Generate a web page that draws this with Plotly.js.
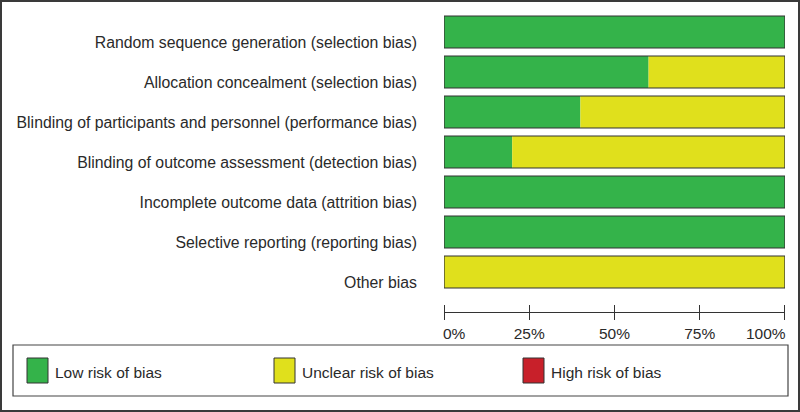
<!DOCTYPE html>
<html><head><meta charset="utf-8">
<script src="https://cdn.plot.ly/plotly-3.0.1.min.js"></script>
<style>
html,body{margin:0;padding:0;background:#fff;}
#wrap{width:800px;height:412px;box-sizing:border-box;border:2px solid #3a3a3a;overflow:hidden;background:#fff;}
#chart{width:796px;height:408px;}
</style></head><body><div id="wrap"><div id="chart"></div></div>
<script>
const domains = [
  "Random sequence generation (selection bias)",
  "Allocation concealment (selection bias)",
  "Blinding of participants and personnel (performance bias)",
  "Blinding of outcome assessment (detection bias)",
  "Incomplete outcome data (attrition bias)",
  "Selective reporting (reporting bias)",
  "Other bias"
];
const lowRisk = [100, 60, 40, 20, 100, 100, 0];
const unclearRisk = [0, 40, 60, 80, 0, 0, 100];
const highRisk = [0, 0, 0, 0, 0, 0, 0];
const seriesNames = ["Low risk of bias", "Unclear risk of bias", "High risk of bias"];
const seriesColors = ["#34b34a", "#e0e01c", "#c8202a"];
const tickVals = [0, 25, 50, 75, 100];
const tickLabels = ["0%", "25%", "50%", "75%", "100%"];

const L = 442, W = 341, T = 10, H = 300, FW = 796, FH = 408;
const FONT = 'Liberation Sans, Arial, sans-serif';
const TXT = '#2a2a2a';
const px = p => (p - 2 - L) / W;       // page px -> paper x
const py = p => 1 - (p - 2 - T) / H;   // page px -> paper y

const seriesVals = [lowRisk, unclearRisk, highRisk];
const traces = [];
let base = domains.map(() => 0);
seriesVals.forEach((vals, i) => {
  traces.push({
    type: 'bar', orientation: 'h', y: domains, x: vals, base: base.slice(),
    name: seriesNames[i], width: 0.8,
    marker: {color: seriesColors[i], line: {width: 0}},
    hoverinfo: 'name+x', showlegend: false
  });
  base = base.map((b, k) => b + vals[k]);
});
// outline around each full bar
traces.push({
  type: 'bar', orientation: 'h', y: domains, x: base, base: domains.map(() => 0),
  xaxis: 'x2', width: 0.8, hoverinfo: 'skip', showlegend: false,
  marker: {color: 'rgba(0,0,0,0)', line: {width: 1.2, color: '#333'}}
});

// end tick labels are aligned inward (left for first, right for last) as annotations
const last = tickVals.length - 1;
const tickText = tickLabels.map((t, i) => (i === 0 || i === last) ? '' : t);

const shapes = [{
  type: 'rect', xref: 'paper', yref: 'paper',
  x0: px(13), x1: px(788), y0: py(345), y1: py(396),
  line: {color: '#444', width: 1.2}, fillcolor: 'rgba(0,0,0,0)'
}];
const annotations = [
  {xref: 'x', yref: 'paper', x: tickVals[0], y: py(333), xanchor: 'left', yanchor: 'middle', xshift: -3,
   showarrow: false, text: tickLabels[0], font: {family: FONT, size: 15.5, color: TXT}},
  {xref: 'x', yref: 'paper', x: tickVals[last], y: py(333), xanchor: 'right', yanchor: 'middle', xshift: 3,
   showarrow: false, text: tickLabels[last], font: {family: FONT, size: 15.5, color: TXT}}
];
const legX = [27, 274, 523];
seriesNames.forEach((n, i) => {
  shapes.push({
    type: 'rect', xref: 'paper', yref: 'paper',
    x0: px(legX[i]), x1: px(legX[i] + 21), y0: py(358), y1: py(383),
    fillcolor: seriesColors[i], line: {color: '#333', width: 1}
  });
  annotations.push({
    xref: 'paper', yref: 'paper', x: px(legX[i] + 26), y: py(372),
    xanchor: 'left', yanchor: 'middle', showarrow: false, text: n,
    font: {family: FONT, size: 15.5, color: TXT}
  });
});

const layout = {
  width: FW, height: FH,
  margin: {l: L, r: FW - L - W, t: T, b: FH - T - H, pad: 0},
  paper_bgcolor: '#fff', plot_bgcolor: '#fff',
  barmode: 'overlay', bargap: 0.2,
  showlegend: false,
  font: {family: FONT, size: 15.5, color: TXT},
  xaxis: {
    range: [-0.01, 100.01], fixedrange: true, showgrid: false, zeroline: false,
    showline: true, linecolor: '#333', linewidth: 1,
    ticks: 'outside', ticklen: 7, tickcolor: '#333', tickwidth: 1,
    tickmode: 'array', tickvals: tickVals, ticktext: tickText,
    tickfont: {family: FONT, size: 15.5, color: TXT}
  },
  xaxis2: {
    overlaying: 'x', anchor: 'free', position: 0, side: 'top',
    range: [-0.01, 100.01], fixedrange: true,
    showgrid: false, zeroline: false, showline: false,
    ticks: 'outside', ticklen: 7, tickcolor: '#333', tickwidth: 1,
    tickmode: 'array', tickvals: tickVals, showticklabels: false
  },
  yaxis: {
    type: 'category', categoryorder: 'array', categoryarray: domains,
    range: [7, -0.5], autorange: false, fixedrange: true,
    showgrid: false, zeroline: false, showline: false, ticks: '',
    ticklabelstandoff: 26, ticklabelshift: -10,
    tickfont: {family: FONT, size: 15.8, color: TXT}
  },
  shapes: shapes,
  annotations: annotations
};

Plotly.newPlot('chart', traces, layout, {displayModeBar: false, staticPlot: true});
</script></body></html>
